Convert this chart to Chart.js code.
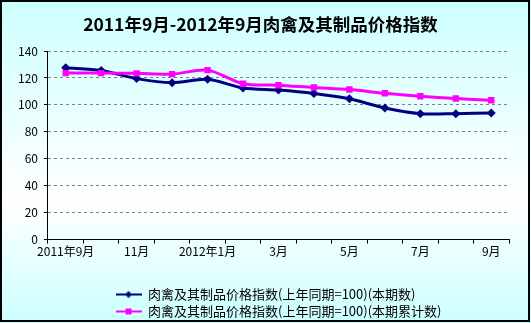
<!DOCTYPE html>
<html>
<head>
<meta charset="utf-8">
<script src="https://cdn.jsdelivr.net/npm/chart.js@4.4.1/dist/chart.umd.min.js"></script>
<style>
  html, body { margin: 0; padding: 0; background: #fff; }
  #wrap { width: 531px; height: 323px; position: relative; }
</style>
</head>
<body>
<div id="wrap"><canvas id="price-chart"></canvas></div>
<script>
// 2011年9月 - 2012年9月，每月一个点
const months = ['2011年9月', '10月', '11月', '12月', '2012年1月', '2月', '3月', '4月', '5月', '6月', '7月', '8月', '9月'];
const monthlyIndex = [127.6, 125.6, 119.5, 116.5, 119, 112.5, 111, 108.5, 104.5, 97.7, 93.5, 93.5, 94];
const cumulativeIndex = [123.6, 123.6, 123.4, 122.8, 125.8, 115.7, 114.6, 112.9, 111.4, 108.6, 106.4, 104.7, 103.4];
const yTicks = [0, 20, 40, 60, 80, 100, 120, 140];

// the two ideographic spaces keep both legend rows the same width, so they line up on the left
const seriesNames = ['肉禽及其制品价格指数(上年同期=100)(本期数)　　', '肉禽及其制品价格指数(上年同期=100)(本期累计数)'];
const FONT = "'Noto Sans CJK SC', 'DejaVu Sans', sans-serif";

// legend swatch: short line with the marker in the middle
function legendSwatch(color, shape) {
    const c = document.createElement('canvas');
    c.width = 26;
    c.height = 10;
    const g = c.getContext('2d');
    g.strokeStyle = color;
    g.fillStyle = color;
    g.lineWidth = 2;
    g.beginPath();
    g.moveTo(0, 5);
    g.lineTo(26, 5);
    g.stroke();
    g.beginPath();
    if (shape === 'diamond') {
        g.moveTo(13, 1.5); g.lineTo(16.5, 5); g.lineTo(13, 8.5); g.lineTo(9.5, 5);
    } else {
        g.rect(10, 2, 6, 6);
    }
    g.fill();
    return c;
}
const swatches = [legendSwatch('#000080', 'diamond'), legendSwatch('#FF00FF', 'square')];

const backdrop = {
    id: 'backdrop',
    beforeDraw(chart) {
        const ctx = chart.ctx;
        const w = chart.width, h = chart.height;
        const grad = ctx.createLinearGradient(0, 0, 0, h);
        grad.addColorStop(0, '#CCFFFF');
        grad.addColorStop(0.62, '#FFFFFF');
        grad.addColorStop(1, '#CCFFFF');
        ctx.save();
        ctx.fillStyle = grad;
        ctx.fillRect(0, 0, w, h);
        ctx.restore();
    },
    afterDraw(chart) {
        const ctx = chart.ctx;
        ctx.save();
        ctx.strokeStyle = '#000';
        ctx.lineWidth = 2;
        ctx.strokeRect(1, 1, chart.width - 3, chart.height - 3);
        ctx.restore();
    }
};

const ctx = document.getElementById('price-chart').getContext('2d');
const chart = new Chart(ctx, {
    type: 'line',
    data: {
        labels: months,
        datasets: [{
            label: seriesNames[0],
            data: monthlyIndex,
            borderColor: '#000080',
            backgroundColor: '#000080',
            borderWidth: 3,
            pointStyle: 'rectRot',
            pointRadius: 4.5,
            pointBorderWidth: 0,
            tension: 0.3,
            order: 1
        }, {
            label: seriesNames[1],
            data: cumulativeIndex,
            borderColor: '#FF00FF',
            backgroundColor: '#FF00FF',
            borderWidth: 3,
            pointStyle: 'rect',
            pointRadius: 4.5,
            pointBorderWidth: 0,
            tension: 0.3,
            order: 0
        }]
    },
    options: {
        responsive: true,
        maintainAspectRatio: false,
        animation: false,
        layout: { padding: { left: 12, right: 22, top: 6, bottom: -5 } },
        plugins: {
            title: {
                display: true,
                text: '2011年9月-2012年9月肉禽及其制品价格指数',
                color: '#000',
                font: { family: FONT, size: 17.5, weight: 'bold' },
                padding: { top: 8, bottom: 16 }
            },
            legend: {
                position: 'bottom',
                fullSize: false,
                labels: {
                    color: '#000',
                    font: { family: FONT, size: 13 },
                    usePointStyle: true,
                    pointStyleWidth: 26,
                    padding: 4,
                    generateLabels(chart) {
                        const items = Chart.defaults.plugins.legend.labels.generateLabels(chart);
                        items.sort((a, b) => a.datasetIndex - b.datasetIndex);
                        items.forEach(item => { item.pointStyle = swatches[item.datasetIndex]; });
                        return items;
                    }
                }
            },
            tooltip: { enabled: false }
        },
        scales: {
            x: {
                offset: true,
                grid: {
                    display: true,
                    offset: true,
                    drawOnChartArea: false,
                    drawTicks: true,
                    tickLength: 4,
                    color: '#000'
                },
                border: { color: '#000', width: 1 },
                ticks: {
                    autoSkip: false,
                    maxRotation: 0,
                    padding: 1,
                    color: '#000',
                    font: { family: FONT, size: 12 },
                    callback: (val, i) => (i % 2 === 0 ? months[i] : '')
                },
                afterFit(scale) { scale.height += 24; }
            },
            y: {
                min: 0,
                max: 140,
                afterBuildTicks(scale) { scale.ticks = yTicks.map(v => ({ value: v })); },
                grid: {
                    color: ctx => (ctx.tick && ctx.tick.value === 0 ? 'rgba(0,0,0,0)' : '#808080'),
                    tickColor: '#000',
                    tickBorderDash: [],
                    tickLength: 4
                },
                border: { color: '#000', width: 1, dash: [3, 3] },
                ticks: {
                    padding: 6,
                    color: '#000',
                    font: { family: FONT, size: 12 }
                }
            }
        }
    },
    plugins: [backdrop]
});
</script>
</body>
</html>
